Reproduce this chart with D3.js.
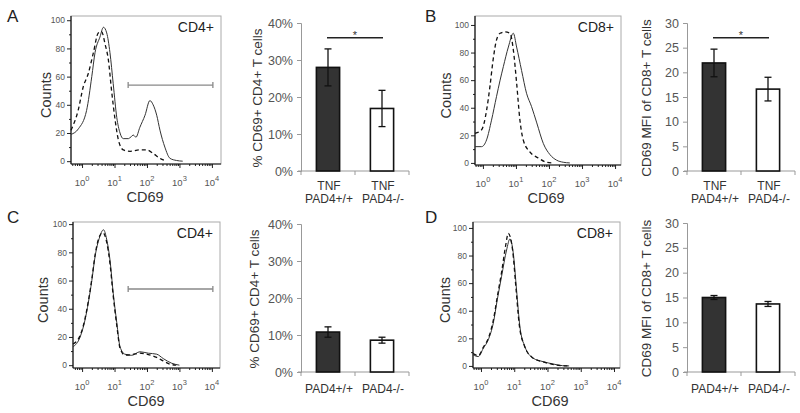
<!DOCTYPE html>
<html>
<head>
<meta charset="utf-8">
<script src="https://cdn.jsdelivr.net/npm/d3@7"></script>
<style>
  body { margin: 0; background: #fff; }
  svg { display: block; font-family: "Liberation Sans", Arial, sans-serif; }
</style>
</head>
<body>
<svg id="fig" width="800" height="413"></svg>
<script>
// Histograms: [log10 CD69 intensity, counts]. solid = PAD4+/+, dashed = PAD4-/-
const histA_solid = [[-0.34, 19], [-0.11, 23], [0.14, 36], [0.30, 60], [0.40, 77], [0.55, 88], [0.66, 95],
  [0.76, 91], [0.86, 77], [0.96, 55], [1.07, 31], [1.17, 20], [1.27, 16], [1.43, 16], [1.58, 18.5],
  [1.66, 17], [1.78, 24], [1.94, 32.6], [2.09, 43], [2.19, 40], [2.30, 32.6], [2.40, 22], [2.55, 10],
  [2.71, 2], [2.91, 0.5], [3.10, 0]];
const histA_dashed = [[-0.34, 22], [-0.12, 36], [0.04, 53], [0.19, 62], [0.35, 77], [0.50, 91], [0.60, 92],
  [0.71, 83], [0.81, 72], [0.91, 50], [1.02, 29], [1.12, 15], [1.27, 8], [1.48, 7], [1.78, 8], [1.99, 8],
  [2.19, 5.5], [2.40, 2], [2.60, 0]];
const histB_solid = [[-0.24, 11.8], [-0.04, 11.8], [0.11, 16.7], [0.26, 31], [0.41, 48], [0.52, 60],
  [0.62, 70], [0.77, 84], [0.92, 94], [1.02, 84], [1.17, 67], [1.32, 50.5], [1.47, 41], [1.63, 29],
  [1.83, 14], [2.03, 6], [2.23, 2], [2.43, 0.5], [2.63, 0]];
const histB_dashed = [[-0.24, 21.5], [-0.04, 24], [0.11, 38], [0.21, 55], [0.31, 75], [0.41, 89], [0.52, 94],
  [0.67, 95], [0.82, 94], [0.92, 82], [1.02, 58], [1.12, 31], [1.22, 16.7], [1.42, 8], [1.68, 3.5],
  [1.93, 0.5], [2.13, 0]];
const histC_solid = [[-0.28, 13], [-0.06, 20], [0.09, 32], [0.19, 44], [0.30, 60], [0.40, 77], [0.53, 90],
  [0.66, 96], [0.76, 89], [0.86, 74.5], [0.96, 51], [1.07, 30], [1.17, 13], [1.32, 7.8], [1.53, 7],
  [1.78, 9.5], [2.04, 8.5], [2.30, 7.8], [2.50, 4.7], [2.76, 1.4], [3.00, 0]];
const histC_dashed = [[-0.28, 15], [-0.06, 21], [0.09, 33], [0.19, 45], [0.30, 61], [0.40, 78], [0.53, 91],
  [0.64, 94], [0.76, 87], [0.86, 72], [0.96, 49], [1.07, 28], [1.17, 12], [1.32, 7.2], [1.53, 7.5],
  [1.78, 8.5], [2.04, 7.5], [2.30, 5.5], [2.50, 3], [2.70, 0.8], [2.90, 0]];
const histD_solid = [[-0.24, 8], [-0.08, 6.8], [0.07, 12.8], [0.22, 19], [0.37, 31], [0.49, 48], [0.62, 65],
  [0.77, 84], [0.87, 92], [0.97, 82], [1.07, 55], [1.17, 28.5], [1.32, 14], [1.57, 5.6], [1.87, 3.1],
  [2.17, 1.4], [2.45, 0.2], [2.65, 0]];
const histD_dashed = [[-0.24, 9], [-0.08, 7.5], [0.07, 13.5], [0.22, 20], [0.37, 33], [0.49, 50], [0.62, 68],
  [0.74, 87], [0.82, 96], [0.95, 84], [1.05, 57], [1.15, 30], [1.30, 15], [1.55, 6], [1.85, 3],
  [2.15, 1.2], [2.40, 0.2], [2.60, 0]];
const gateCD4 = [1.42, 4.03];
const gateCount = 54;
const countTicks = [0, 20, 40, 60, 80, 100];
const decades = [0, 1, 2, 3, 4];

// Bar charts
const groupsTNF = [["TNF", "PAD4+/+"], ["TNF", "PAD4-/-"]];
const groupsCtrl = [["PAD4+/+"], ["PAD4-/-"]];
const pctCD4_tnf = [28.0, 16.9];
const pctCD4_tnf_err = [5.0, 4.9];
const mfiCD8_tnf = [21.9, 16.6];
const mfiCD8_tnf_err = [2.8, 2.4];
const pctCD4_ctrl = [10.8, 8.6];
const pctCD4_ctrl_err = [1.4, 0.8];
const mfiCD8_ctrl = [15.0, 13.7];
const mfiCD8_ctrl_err = [0.4, 0.5];
const pctTicks = [0, 10, 20, 30, 40];
const mfiTicks = [0, 5, 10, 15, 20, 25, 30];

const svg = d3.select('#fig');

function drawHist(cfg) {
    const f = cfg.frame;
    const g = svg.append('g');
    const x = d3.scaleLinear().domain(cfg.xDom).range([f.x0, f.x1]);
    const y = d3.scaleLinear().domain(cfg.yDom).range([f.y1, f.y0]);

    // light frame
    g.append('rect')
        .attr('x', f.x0).attr('y', f.y0)
        .attr('width', f.x1 - f.x0).attr('height', f.y1 - f.y0)
        .attr('fill', 'none').attr('stroke', '#aaa').attr('stroke-width', 1);

    // y axis
    const yAxis = g.append('g').attr('transform', `translate(${f.x0},0)`);
    yAxis.call(d3.axisLeft(y).tickValues(countTicks).tickSize(4).tickPadding(2));
    yAxis.call(a => a.select('.domain').remove());
    yAxis.selectAll('text').attr('font-size', 8.5).attr('fill', '#555').attr('font-family', null);
    yAxis.selectAll('line').attr('stroke', '#222');
    g.append('g').attr('transform', `translate(${f.x0},0)`)
        .call(d3.axisLeft(y).tickValues([10, 30, 50, 70, 90]).tickSize(2).tickFormat(''))
        .call(a => a.select('.domain').remove())
        .selectAll('line').attr('stroke', '#222');

    // x axis (log decades)
    const minor = [];
    for (let k = -1; k < 4; k++) {
        for (let m = 2; m <= 9; m++) {
            const v = k + Math.log10(m);
            if (v > cfg.xDom[0] && v < cfg.xDom[1]) minor.push(v);
        }
    }
    const xAxis = g.append('g').attr('transform', `translate(0,${f.y1})`);
    xAxis.call(d3.axisBottom(x).tickValues(decades).tickSize(4).tickFormat(''));
    xAxis.call(a => a.select('.domain').remove());
    xAxis.selectAll('line').attr('stroke', '#222');
    g.append('g').attr('transform', `translate(0,${f.y1})`)
        .call(d3.axisBottom(x).tickValues(minor).tickSize(2).tickFormat(''))
        .call(a => a.select('.domain').remove())
        .selectAll('line').attr('stroke', '#222');

    const lbl = g.selectAll('text.dec')
        .data(decades)
        .join('text')
        .attr('class', 'dec')
        .attr('x', d => x(d))
        .attr('y', f.y1 + 22)
        .attr('text-anchor', 'middle')
        .attr('fill', '#555');
    lbl.append('tspan').attr('font-size', 9.5).text('10');
    lbl.append('tspan').attr('font-size', 7.5).attr('dy', -5).text(d => d);

    g.append('line')
        .attr('x1', f.x0).attr('x2', f.x0).attr('y1', f.y0).attr('y2', f.y1)
        .attr('stroke', '#111').attr('stroke-width', 1.2);
    g.append('line')
        .attr('x1', f.x0).attr('x2', f.x1).attr('y1', f.y1).attr('y2', f.y1)
        .attr('stroke', '#111').attr('stroke-width', 1.2);

    // gate
    if (cfg.gate) {
        const gy = y(gateCount);
        g.append('line')
            .attr('x1', x(cfg.gate[0])).attr('x2', x(cfg.gate[1]))
            .attr('y1', gy).attr('y2', gy)
            .attr('stroke', '#888').attr('stroke-width', 1.3);
        g.selectAll('line.cap')
            .data(cfg.gate)
            .join('line')
            .attr('class', 'cap')
            .attr('x1', d => x(d)).attr('x2', d => x(d))
            .attr('y1', gy - 3).attr('y2', gy + 3)
            .attr('stroke', '#888').attr('stroke-width', 1.3);
    }

    const line = d3.line()
        .x(d => x(d[0]))
        .y(d => y(d[1]))
        .curve(d3.curveMonotoneX);
    g.append('path').datum(cfg.solid)
        .attr('d', line).attr('fill', 'none')
        .attr('stroke', '#333').attr('stroke-width', 1);
    g.append('path').datum(cfg.dashed)
        .attr('d', line).attr('fill', 'none')
        .attr('stroke', '#111').attr('stroke-width', 1.3)
        .attr('stroke-dasharray', '4,3');

    g.append('text')
        .attr('x', f.x1 - 7).attr('y', f.y0 + 16)
        .attr('text-anchor', 'end')
        .attr('font-size', 14).attr('fill', '#222')
        .text(cfg.cells);

    g.append('text')
        .attr('transform', `translate(${cfg.countsX},${(f.y0 + f.y1) / 2 + 5}) rotate(-90)`)
        .attr('text-anchor', 'middle')
        .attr('font-size', 14.5).attr('fill', '#333')
        .text('Counts');
    g.append('text')
        .attr('x', cfg.cd69X).attr('y', f.y1 + 38)
        .attr('text-anchor', 'middle')
        .attr('font-size', 14.5).attr('fill', '#333')
        .text('CD69');

    g.append('text')
        .attr('x', cfg.letter[1]).attr('y', cfg.letter[2])
        .attr('font-size', 17).attr('fill', '#222')
        .text(cfg.letter[0]);
}

function drawBars(cfg) {
    const g = svg.append('g');
    const x = d3.scaleBand()
        .domain(d3.range(cfg.means.length))
        .range([cfg.x0, cfg.x1])
        .paddingInner(0.57)
        .paddingOuter(0.285);
    const y = d3.scaleLinear().domain([0, cfg.max]).range([cfg.y0, cfg.y1]);

    const yAxis = g.append('g').attr('transform', `translate(${cfg.x0},0)`)
        .call(d3.axisLeft(y).tickValues(cfg.ticks).tickSize(4).tickPadding(4)
            .tickFormat(d => cfg.pct ? d + '%' : d));
    yAxis.select('.domain').attr('stroke', '#999');
    yAxis.selectAll('line').attr('stroke', '#999');
    yAxis.selectAll('text').attr('font-size', 12.5).attr('fill', '#555').attr('font-family', null);

    // x axis
    g.append('line')
        .attr('x1', cfg.x0 - 3).attr('x2', cfg.x1)
        .attr('y1', y(0)).attr('y2', y(0))
        .attr('stroke', '#999');
    g.selectAll('line.xt')
        .data([cfg.x0, (cfg.x0 + cfg.x1) / 2, cfg.x1])
        .join('line')
        .attr('class', 'xt')
        .attr('x1', d => d).attr('x2', d => d)
        .attr('y1', y(0)).attr('y2', y(0) + 4)
        .attr('stroke', '#999');

    g.selectAll('rect.bar')
        .data(cfg.means)
        .join('rect')
        .attr('class', 'bar')
        .attr('x', (d, i) => x(i))
        .attr('y', d => y(d))
        .attr('width', x.bandwidth())
        .attr('height', d => y(0) - y(d))
        .attr('fill', (d, i) => i === 0 ? '#333' : '#fff')
        .attr('stroke', '#111')
        .attr('stroke-width', 1.6);

    // error bars
    const cx = i => x(i) + x.bandwidth() / 2;
    cfg.means.forEach((m, i) => {
        const e = cfg.errs[i];
        g.append('line')
            .attr('x1', cx(i)).attr('x2', cx(i))
            .attr('y1', y(m + e)).attr('y2', y(m - e))
            .attr('stroke', '#111').attr('stroke-width', 1.3);
        [m + e, m - e].forEach(v => {
            g.append('line')
                .attr('x1', cx(i) - 3.5).attr('x2', cx(i) + 3.5)
                .attr('y1', y(v)).attr('y2', y(v))
                .attr('stroke', '#111').attr('stroke-width', 1.3);
        });
    });

    if (cfg.sig) {
        const sy = y(cfg.sig);
        g.append('line')
            .attr('x1', cx(0) - 1).attr('x2', cx(1) + 1)
            .attr('y1', sy).attr('y2', sy)
            .attr('stroke', '#222').attr('stroke-width', 1.5);
        g.append('text')
            .attr('x', (cx(0) + cx(1)) / 2).attr('y', sy + 1)
            .attr('text-anchor', 'middle')
            .attr('font-size', 11).attr('fill', '#333')
            .text('*');
    }

    cfg.groups.forEach((lines, i) => {
        lines.forEach((t, j) => {
            g.append('text')
                .attr('x', cx(i) + 1)
                .attr('y', y(0) + cfg.labelDy + j * 13)
                .attr('text-anchor', 'middle')
                .attr('font-size', 12).attr('fill', '#333')
                .text(t);
        });
    });

    g.append('text')
        .attr('transform', `translate(${cfg.labelX},${(cfg.y0 + cfg.y1) / 2 + 1}) rotate(-90)`)
        .attr('text-anchor', 'middle')
        .attr('font-size', 13.5).attr('fill', '#333')
        .text(cfg.ylabel);
}

drawHist({ frame: { x0: 71, x1: 221, y0: 16, y1: 164 }, xDom: [-0.34, 4.28], yDom: [-2, 103],
    solid: histA_solid, dashed: histA_dashed, gate: gateCD4, cells: 'CD4+',
    countsX: 51, cd69X: 145, letter: ['A', 7, 22] });
drawHist({ frame: { x0: 475, x1: 621, y0: 16, y1: 165 }, xDom: [-0.24, 4.18], yDom: [-1.5, 106.5],
    solid: histB_solid, dashed: histB_dashed, gate: null, cells: 'CD8+',
    countsX: 451, cd69X: 546, letter: ['B', 425, 22] });
drawHist({ frame: { x0: 73, x1: 220, y0: 222, y1: 368 }, xDom: [-0.28, 4.25], yDom: [-2, 101.5],
    solid: histC_solid, dashed: histC_dashed, gate: gateCD4, cells: 'CD4+',
    countsX: 48, cd69X: 146, letter: ['C', 7, 223] });
drawHist({ frame: { x0: 473, x1: 620, y0: 222, y1: 368 }, xDom: [-0.24, 4.18], yDom: [-1.5, 104.3],
    solid: histD_solid, dashed: histD_dashed, gate: null, cells: 'CD8+',
    countsX: 450, cd69X: 550, letter: ['D', 425, 223] });

drawBars({ x0: 301, x1: 409, y0: 171, y1: 23, max: 40, ticks: pctTicks, pct: true,
    means: pctCD4_tnf, errs: pctCD4_tnf_err, sig: 36, groups: groupsTNF, labelDy: 19,
    ylabel: '% CD69+ CD4+ T cells', labelX: 262 });
drawBars({ x0: 687, x1: 795, y0: 171, y1: 23, max: 30, ticks: mfiTicks, pct: false,
    means: mfiCD8_tnf, errs: mfiCD8_tnf_err, sig: 27, groups: groupsTNF, labelDy: 19,
    ylabel: 'CD69 MFI of CD8+ T cells', labelX: 651 });
drawBars({ x0: 301, x1: 409, y0: 372, y1: 224, max: 40, ticks: pctTicks, pct: true,
    means: pctCD4_ctrl, errs: pctCD4_ctrl_err, sig: null, groups: groupsCtrl, labelDy: 21,
    ylabel: '% CD69+ CD4+ T cells', labelX: 259 });
drawBars({ x0: 687, x1: 795, y0: 372, y1: 223, max: 30, ticks: mfiTicks, pct: false,
    means: mfiCD8_ctrl, errs: mfiCD8_ctrl_err, sig: null, groups: groupsCtrl, labelDy: 21,
    ylabel: 'CD69 MFI of CD8+ T cells', labelX: 651 });
</script>
</body>
</html>
